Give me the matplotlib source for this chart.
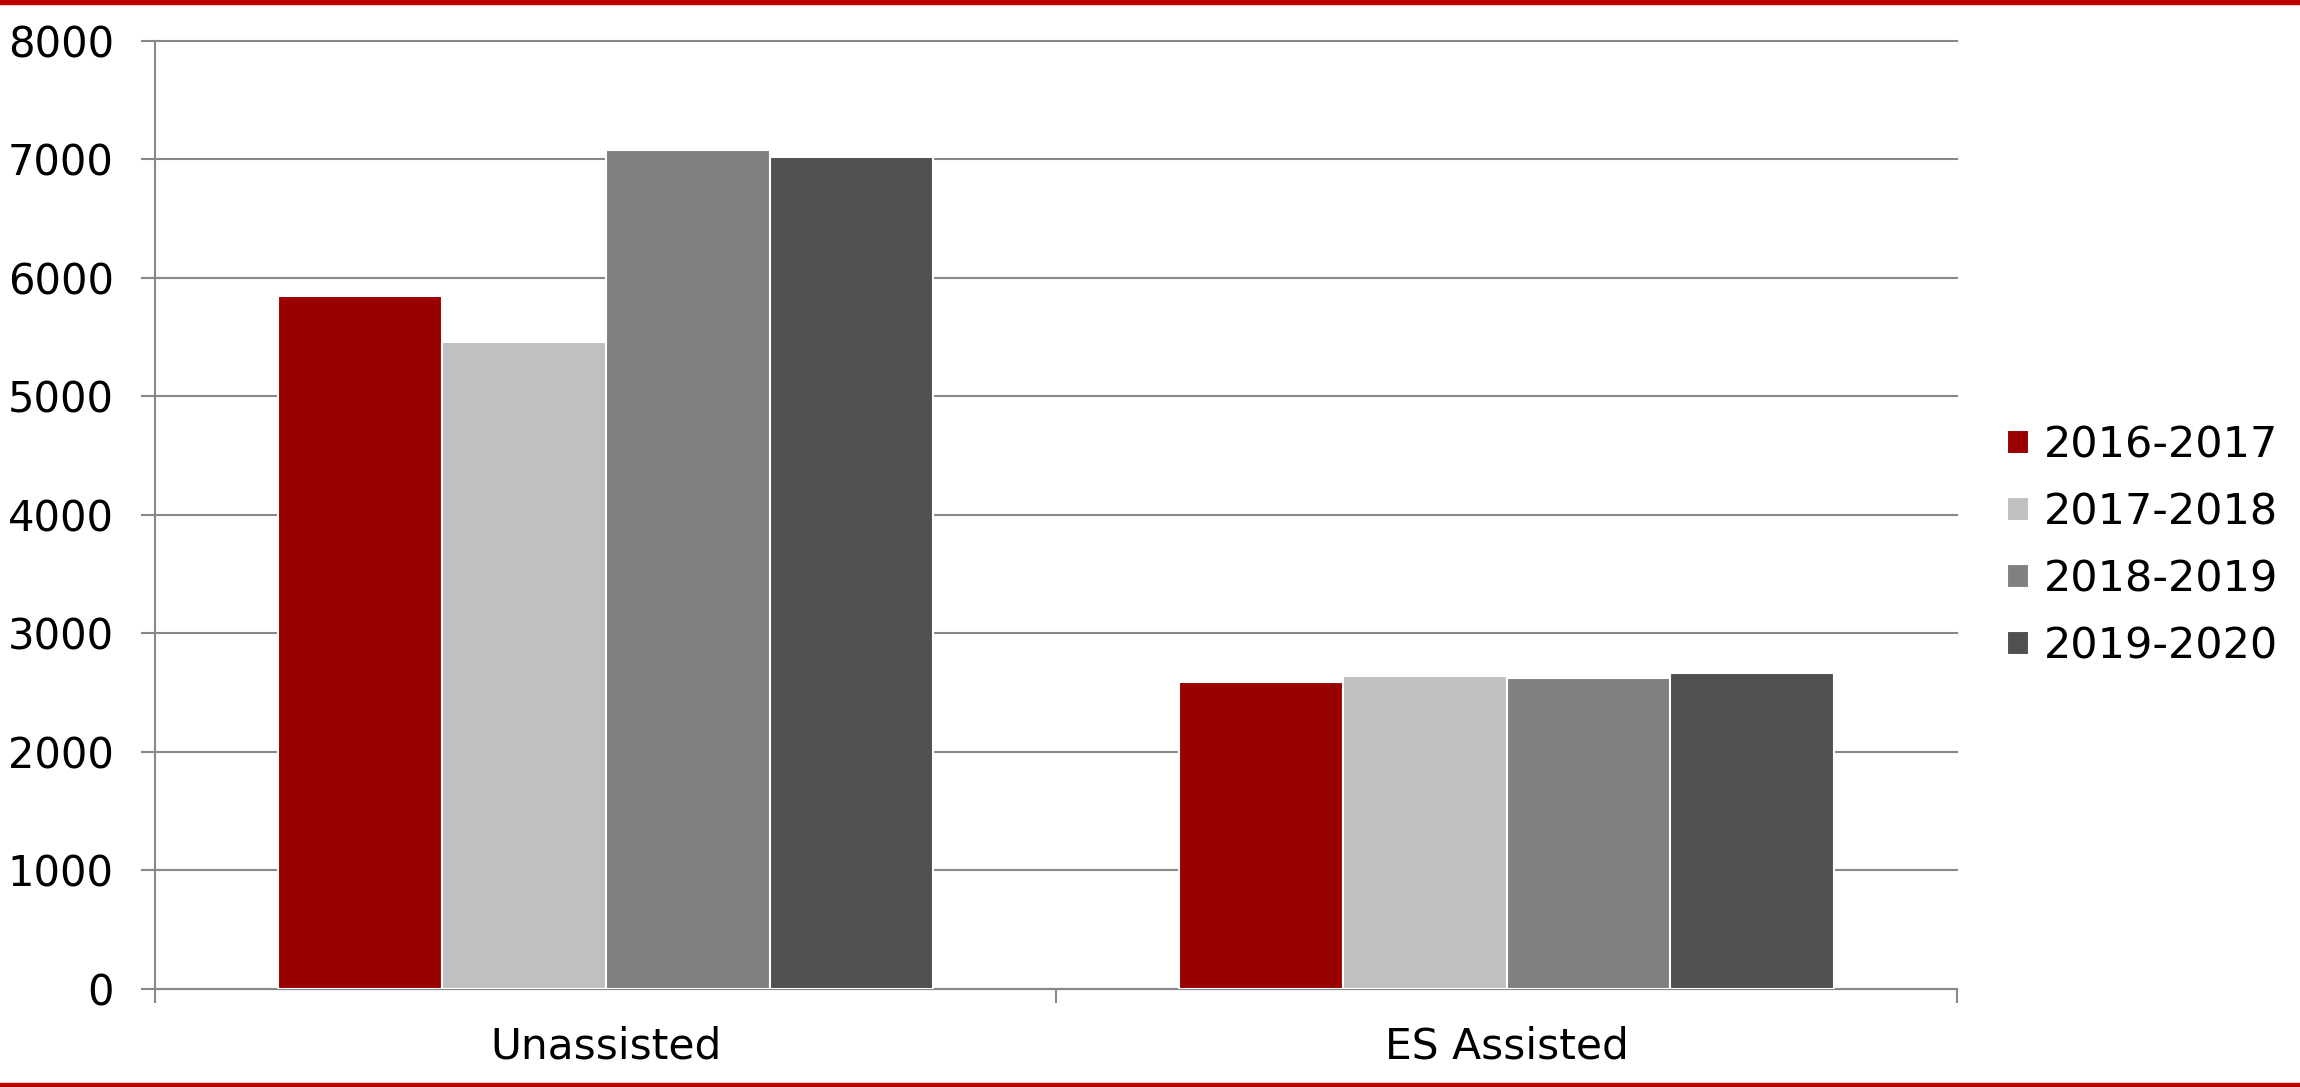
import matplotlib
matplotlib.use("Agg")
import matplotlib.pyplot as plt
import matplotlib.patches as mpatches
import numpy as np

# --- data ---
categories = ['Unassisted', 'ES Assisted']
series_names = ['2016-2017', '2017-2018', '2018-2019', '2019-2020']
values_1617 = [5845, 2590]
values_1718 = [5455, 2637]
values_1819 = [7075, 2627]
values_1920 = [7020, 2665]
colors = ['#990000', '#C0C0C0', '#808080', '#505050']
y_ticks = [0, 1000, 2000, 3000, 4000, 5000, 6000, 7000, 8000]

all_values = [values_1617, values_1718, values_1819, values_1920]

plt.rcParams['font.family'] = ['DejaVu Sans']

fig = plt.figure(figsize=(23, 10.87), dpi=100)
ax = fig.add_axes([0.0676, 0.0902, 0.7833, 0.8724])

x = np.arange(len(categories))
group_width = 1 / 1.375   # excel gap width 37.5%
bar_w = group_width / len(series_names)

for i, (name, vals) in enumerate(zip(series_names, all_values)):
    offs = -group_width / 2 + bar_w * (i + 0.5)
    ax.bar(x + offs, vals, width=bar_w, color=colors[i], edgecolor='white',
           linewidth=1.5, label=name, zorder=3)

ax.set_xlim(-0.5, len(categories) - 0.5)
ax.set_ylim(0, 8000)
ax.set_yticks(y_ticks)
ax.set_yticklabels([str(t) for t in y_ticks])
ax.set_xticks(x)
ax.set_xticklabels(categories)
ax.set_xticks(np.arange(-0.5, len(categories)), minor=True)

ax.grid(axis='y', color='#888888', linewidth=1.5, zorder=0, clip_on=False)
ax.set_axisbelow(True)

for s in ['top', 'right']:
    ax.spines[s].set_visible(False)
for s in ['left', 'bottom']:
    ax.spines[s].set_color('#888888')
    ax.spines[s].set_linewidth(1.5)

ax.tick_params(axis='y', length=10, width=1.5, color='#888888', labelsize=30, pad=20)
ax.tick_params(axis='x', which='major', length=0, labelsize=30.5, pad=26)
ax.tick_params(axis='x', which='minor', length=10, width=1.5, color='#888888')

fig.legend(loc='center left', bbox_to_anchor=(2007 / 2300, 0.498), frameon=False,
           fontsize=31, handlelength=0.5, handleheight=0.5, handletextpad=0.35,
           labelspacing=0.58, borderpad=0, borderaxespad=0)

# red rules at top and bottom of the figure
fig.patches.append(mpatches.Rectangle((0, 1 - 3.5 / 1087), 1, 3.5 / 1087,
                                      transform=fig.transFigure, color='#C00000'))
fig.patches.append(mpatches.Rectangle((0, 0), 1, 4 / 1087,
                                      transform=fig.transFigure, color='#C00000'))

fig.savefig('out.png', dpi=100, facecolor='white')
